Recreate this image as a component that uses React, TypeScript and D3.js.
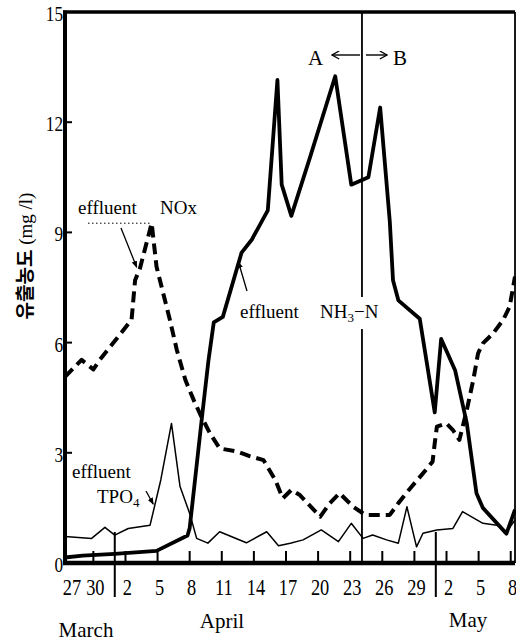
import React from 'react';
import * as d3 from 'd3';

const W = 516;
const H = 642;

// day index: 0 = March 27
const xTickDays = [0, 3, 6, 9, 12, 15, 18, 21, 24, 27, 30, 33, 36, 39, 42];
const xTickLabels = ['27', '30', '2', '5', '8', '11', '14', '17', '20', '23', '26', '29', '2', '5', '8'];
const yTicks = [0, 3, 6, 9, 12, 15];
const monthDividers = [5, 35];
const abDivider = 28.1;

const nh3Days = [0.35, 2.0, 5.0, 8.9, 11.8, 12.0, 13.2, 13.75, 14.25, 15.1, 16.85, 17.8, 19.3, 20.2, 20.6, 21.5, 23.2, 25.6, 27.1, 28.7, 29.8, 30.7, 31.0, 31.5, 33.5, 34.9, 35.5, 36.8, 37.9, 38.8, 39.4, 41.6, 42.4];
const nh3Values = [0.15, 0.2, 0.25, 0.33, 0.75, 0.95, 4.1, 5.5, 6.55, 6.7, 8.45, 8.8, 9.6, 13.15, 10.3, 9.45, 11.0, 13.25, 10.3, 10.5, 12.4, 9.3, 7.7, 7.15, 6.65, 4.1, 6.1, 5.25, 3.8, 1.9, 1.5, 0.8, 1.45];

const noxDays = [0.35, 1.9, 3.0, 3.6, 6.57, 6.9, 7.35, 8.45, 8.9, 10.15, 10.8, 11.6, 12.4, 13.1, 13.9, 14.8, 16.5, 17.6, 18.9, 20.0, 20.7, 21.5, 22.3, 24.2, 25.1, 26.0, 27.3, 28.4, 30.7, 31.5, 32.6, 33.8, 34.7, 34.9, 35.1, 36.0, 36.6, 37.2, 37.9, 38.5, 38.95, 39.4, 40.35, 41.3, 41.9, 42.4];
const noxValues = [5.07, 5.53, 5.27, 5.53, 6.62, 7.7, 8.02, 9.25, 8.07, 6.62, 5.8, 4.98, 4.42, 3.98, 3.53, 3.12, 3.03, 2.91, 2.8, 2.26, 1.76, 1.99, 1.85, 1.26, 1.63, 1.9, 1.53, 1.31, 1.31, 1.63, 2.03, 2.44, 2.76, 3.26, 3.71, 3.8, 3.62, 3.35, 4.17, 4.98, 5.71, 5.98, 6.25, 6.62, 6.98, 7.8];

const tpoDays = [0.35, 2.84, 4.08, 5.0, 6.26, 8.3, 9.3, 10.3, 11.1, 12.0, 12.65, 13.7, 14.8, 17.3, 19.2, 20.3, 21.4, 22.6, 24.3, 25.9, 27.1, 28.2, 29.1, 30.4, 31.5, 32.3, 33.2, 33.8, 35.1, 36.6, 37.5, 39.4, 40.7, 41.6, 42.4];
const tpoValues = [0.72, 0.67, 0.97, 0.76, 0.94, 1.03, 2.26, 3.8, 2.08, 1.35, 0.67, 0.54, 0.85, 0.55, 0.85, 0.47, 0.54, 0.63, 0.9, 0.58, 1.08, 0.67, 0.76, 0.63, 0.54, 1.53, 0.44, 0.81, 0.9, 0.94, 1.4, 1.08, 1.03, 0.85, 1.17];

const SERIF = '"Liberation Serif", "DejaVu Serif", serif';

export default function App() {
  const x = d3.scaleLinear().domain([0.35, 42.4]).range([65, 515]);
  const y = d3.scaleLinear().domain([0, 15]).range([563, 12]);
  const line = d3.line<[number, number]>().x((p) => x(p[0])).y((p) => y(p[1]));
  const zip = (a: number[], b: number[]) => a.map((d, i) => [d, b[i]] as [number, number]);

  const [x0, x1] = x.range();
  const [y0, y1] = y.range();

  return (
    <svg width={W} height={H} style={{ position: 'absolute', left: 0, top: 0, background: '#fff' }} fontFamily={SERIF}>
      <defs>
        <marker id="tip" viewBox="0 0 10 10" refX="9" refY="5" markerWidth="7" markerHeight="7" orient="auto" markerUnits="userSpaceOnUse">
          <path d="M0,1 L10,5 L0,9 Z" fill="#000" />
        </marker>
        <marker id="open" viewBox="0 0 10 10" refX="9" refY="5" markerWidth="9" markerHeight="9" orient="auto" markerUnits="userSpaceOnUse">
          <path d="M1,0.5 L9,5 L1,9.5" fill="none" stroke="#000" strokeWidth="1.4" />
        </marker>
      </defs>
      <rect x={0} y={0} width={W} height={H} fill="#fff" />

      {/* series */}
      <path d={line(zip(tpoDays, tpoValues)) || ''} fill="none" stroke="#000" strokeWidth={1.5} strokeLinejoin="round" />
      <path d={line(zip(noxDays, noxValues)) || ''} fill="none" stroke="#000" strokeWidth={4} strokeDasharray="11,6" strokeLinejoin="round" />
      <path d={line(zip(nh3Days, nh3Values)) || ''} fill="none" stroke="#000" strokeWidth={3.8} strokeLinejoin="round" />

      {/* A/B divider */}
      <line x1={x(abDivider)} x2={x(abDivider)} y1={y1} y2={y0} stroke="#000" strokeWidth={1.8} />
      {/* month dividers */}
      {monthDividers.map((d) => (
        <line key={d} x1={x(d)} x2={x(d)} y1={y0 - 31} y2={y0 + 34} stroke="#000" strokeWidth={2} />
      ))}

      {/* frame */}
      <line x1={x1} x2={x1} y1={y1} y2={y0} stroke="#000" strokeWidth={1.8} />
      <line x1={x0 - 2} x2={x1} y1={y1} y2={y1} stroke="#000" strokeWidth={3.5} />
      <line x1={x0} x2={x0} y1={y1 - 1.5} y2={y0 + 2} stroke="#000" strokeWidth={4} />
      <line x1={x0 - 2} x2={x1} y1={y0} y2={y0} stroke="#000" strokeWidth={4.5} />

      {/* x ticks */}
      {xTickDays.map((d, i) => (
        <g key={'xt' + i}>
          {x(d) > x0 + 3 && <line x1={x(d)} x2={x(d)} y1={y0} y2={y0 - 12} stroke="#000" strokeWidth={2} />}
          <text
            transform={`translate(${Math.max(x(d) + 2, 72)},595) scale(0.8,1)`}
            textAnchor="middle"
            fontSize={23}
          >
            {xTickLabels[i]}
          </text>
        </g>
      ))}

      {/* y ticks */}
      {yTicks.map((v) => (
        <g key={'yt' + v}>
          {v > 0 && v < 15 && <line x1={x0} x2={x0 + 7} y1={y(v)} y2={y(v)} stroke="#000" strokeWidth={2} />}
          <text transform={`translate(63,${y(v) + 9}) scale(0.82,1)`} textAnchor="end" fontSize={21}>
            {v}
          </text>
        </g>
      ))}

      {/* month labels */}
      <text x={86} y={637} textAnchor="middle" fontSize={21}>March</text>
      <text x={222} y={628} textAnchor="middle" fontSize={21}>April</text>
      <text x={468} y={627} textAnchor="middle" fontSize={21}>May</text>

      {/* y label */}
      <text transform="translate(32,256) rotate(-90)" textAnchor="middle" fontSize={19}>
        <tspan fontFamily='"Noto Sans CJK KR", sans-serif' fontWeight={700}>유출농도</tspan>
        <tspan fontFamily={SERIF}> (mg /l)</tspan>
      </text>

      {/* A <-> B */}
      <text x={308} y={65} fontSize={21}>A</text>
      <line x1={360} x2={332} y1={55} y2={55} stroke="#000" strokeWidth={1.4} markerEnd="url(#open)" />
      <line x1={366} x2={387} y1={55} y2={55} stroke="#000" strokeWidth={1.4} markerEnd="url(#open)" />
      <text x={393} y={65} fontSize={21}>B</text>

      {/* NOx annotation */}
      <text x={78} y={214} fontSize={19}>effluent</text>
      <text x={160} y={214} fontSize={19}>NOx</text>
      <line x1={88} x2={x(8.45) - 2} y1={y(9.25)} y2={y(9.25)} stroke="#000" strokeWidth={1} strokeDasharray="1.5,2.5" />
      <line x1={121} y1={228} x2={x(7.05)} y2={y(8.05)} stroke="#000" strokeWidth={1.3} markerEnd="url(#tip)" />

      {/* NH3-N annotation */}
      <rect x={x(abDivider) - 8} y={297} width={16} height={32} fill="#fff" />
      <text x={240} y={318} fontSize={19}>effluent</text>
      <text x={320} y={318} fontSize={19}>
        NH<tspan fontSize={13} dy={4}>3</tspan>
        <tspan dy={-4}>−N</tspan>
      </text>
      <line x1={247} y1={291} x2={x(16.55)} y2={y(8.2)} stroke="#000" strokeWidth={1.3} markerEnd="url(#tip)" />

      {/* TPO4 annotation */}
      <text x={72} y={478} fontSize={19}>effluent</text>
      <text x={97} y={503} fontSize={19}>
        TPO<tspan fontSize={13} dy={4}>4</tspan>
      </text>
      <line x1={146} y1={491} x2={x(8.6)} y2={y(1.6)} stroke="#000" strokeWidth={1.3} markerEnd="url(#tip)" />
    </svg>
  );
}
